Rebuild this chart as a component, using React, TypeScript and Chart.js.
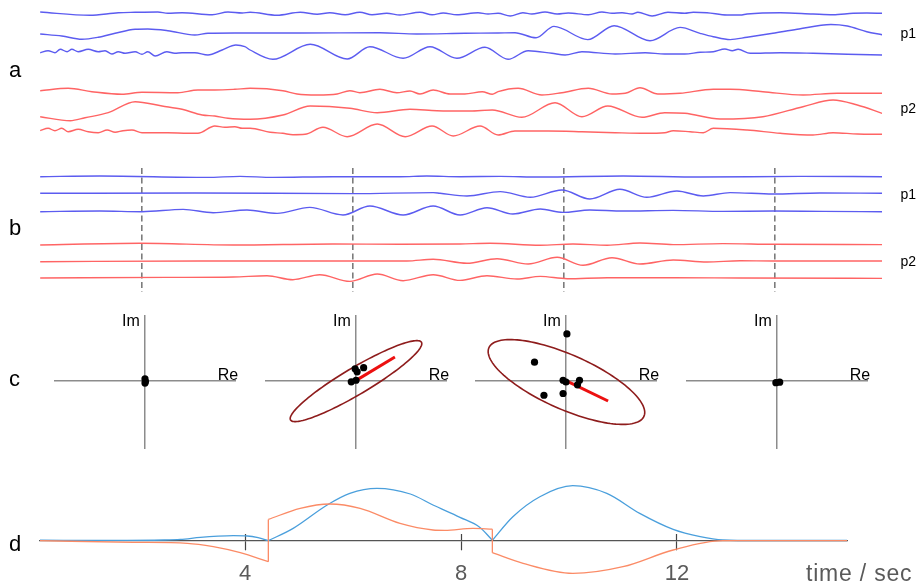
import React, { useEffect, useRef } from "react";
import { Chart, registerables } from "chart.js";

Chart.register(...registerables);

type Pt = [number, number];

// ---------- panel a : raw traces (time s, deflection, up positive) ----------
const aBlue1: Pt[] = [[0.07,1.3],[1.01,-2],[1.55,0.6],[1.87,1],[2.30,1.3],[2.49,0],[2.76,0.6],[3.33,-1.4],[3.63,1.3],[3.90,0.3],[4.05,1],[4.56,-2],[5.00,1],[5.32,-1],[5.56,0.6],[5.85,-1.4],[6.13,1],[6.36,-1.4],[6.64,0],[6.89,-1.7],[7.27,1],[7.50,-1.4],[7.71,0.3],[7.97,-1.4],[8.37,0.6],[8.56,-0.7],[8.75,0],[8.98,-2.7],[9.22,0.6],[9.39,-0.7],[9.64,1.3],[9.87,-0.7],[10.08,0.3],[10.46,-1.4],[10.72,1.3],[10.91,0],[11.10,0.6],[11.29,-0.7],[11.40,1],[11.67,-2.7],[11.97,1],[12.29,0],[12.45,1],[12.71,0.6],[13.09,-1.7],[13.34,-1.7],[13.47,-0.7],[14.10,0.6],[14.72,-0.7],[15.10,-1.4],[15.48,0],[15.74,0.3],[16.03,0]];
const aBlue2: Pt[] = [[0.07,-0.7],[0.48,-2.7],[0.86,-6],[1.17,-4],[1.49,0],[1.87,4],[2.11,4.3],[2.49,2.6],[3.00,-1.7],[3.25,0],[3.76,0.3],[5.00,0.3],[6.51,0.6],[7.21,-0.7],[8.12,0],[8.75,0.3],[9.07,0.6],[9.47,-4.5],[9.81,6.9],[10.45,-6.3],[10.95,7.6],[11.63,-7.4],[12.2,5.9],[12.58,0],[12.83,-3.4],[13.15,-6.3],[13.47,-4],[13.96,0],[14.42,4],[15.06,8.8],[15.37,7.3],[15.74,1.6],[16.03,-1.4]];
const aBlue3: Pt[] = [[0.07,0.3],[0.22,2.3],[0.35,0.3],[0.45,3.7],[0.58,1.3],[0.67,3.7],[0.79,1.3],[0.98,3.7],[1.17,1.3],[1.30,2.3],[1.43,-1],[1.55,1.3],[1.68,-0.3],[1.87,1.3],[2.00,-1.3],[2.11,1.3],[2.25,-3],[2.47,1.3],[2.62,-0.3],[2.76,0.3],[3.00,0.3],[3.25,-2],[3.52,3],[3.78,8],[3.95,6.3],[4.05,3],[4.48,-6.3],[5.19,8.7],[5.89,-6],[6.32,6.3],[6.95,-5.3],[7.46,6.3],[7.97,-5.3],[8.50,5.7],[8.94,-6.3],[9.32,2.3],[9.77,-0.3],[10.02,-2],[10.34,1.3],[10.97,-1],[11.54,0.3],[11.91,-1],[12.29,-1],[12.58,0.7],[12.83,1.3],[13.05,4],[13.19,2.3],[13.30,3.7],[13.53,-0.3],[14.10,0.3],[14.72,-0.3],[15.37,-1.3],[16.03,-2]];
const aRed1: Pt[] = [[0.07,0.3],[0.60,2.7],[1.05,-0.7],[1.62,-3.3],[2.0,-1.3],[2.68,-1.7],[3.06,1],[3.38,1],[3.76,1.7],[4.05,2.7],[4.67,0.3],[4.94,-3],[5.32,-4],[5.70,-3],[5.94,0.3],[6.13,-1.7],[6.51,1.7],[6.83,-1.7],[7.08,0],[7.27,-3],[7.52,1],[7.84,-3],[8.12,-3],[8.45,-0.7],[8.64,-3.3],[8.75,-0.7],[9.13,2.7],[9.58,-4],[9.96,-1.7],[10.46,2.7],[10.91,-3],[11.16,-2.3],[11.44,3.3],[11.78,-3],[12.20,-2.3],[12.83,1.7],[13.15,1.7],[13.77,-0.7],[14.53,-4],[15.18,-2.3],[16.03,-2.3]];
const aRed2: Pt[] = [[0.07,-4.7],[0.64,-8.7],[0.92,-5.7],[1.36,-0.7],[1.87,10.3],[2.38,6],[2.76,2.7],[3.14,-3],[3.38,-4],[3.63,-6.3],[4.05,-7.3],[4.67,-3],[5.19,6],[5.94,3.7],[6.46,-0.7],[7.08,2.7],[7.59,1.3],[8.22,1],[8.64,2],[9.20,-5.3],[9.83,9.3],[10.34,-4.7],[10.83,6],[11.48,-5.3],[11.91,-0.7],[12.29,-1.3],[12.96,-7],[13.77,-4.7],[14.53,5.3],[15.10,12],[15.56,7],[16.03,-1.3]];
const aRed3: Pt[] = [[0.07,0.3],[0.22,2.7],[0.35,0.3],[0.48,2.7],[0.60,-0.7],[0.79,1.7],[0.98,-0.7],[1.17,-1.7],[1.34,1],[1.49,-1.3],[1.64,0.3],[1.81,1],[2.00,-1.7],[2.49,-1.7],[2.87,-2.3],[3.06,-2.3],[3.38,5],[3.57,3.7],[3.76,4.3],[3.90,2.7],[4.05,2.7],[4.43,-1.3],[4.67,-2.3],[4.86,-3.7],[5.09,-3.3],[5.43,3.7],[5.89,-5.7],[6.46,7],[6.99,-5.7],[7.50,5],[7.90,-5],[8.41,5],[8.75,-4],[9.07,0],[9.70,0],[10.34,-0.7],[10.97,-1.7],[11.54,-2.3],[11.91,-1.7],[12.07,0.3],[12.39,-0.7],[12.64,-1.7],[12.83,2.7],[13.47,1],[14.10,-2.3],[14.72,-4],[15.10,-1.7],[15.56,-3],[16.03,-3.3]];

// ---------- panel b : filtered traces ----------
const bBlue1: Pt[] = [[0.07,0],[1.20,0.7],[3.23,-0.7],[3.86,0.3],[4.48,-0.7],[5.62,0],[6.89,0],[7.40,0.7],[8.03,0],[8.79,0.3],[9.55,-0.3],[11.12,0.7],[12.58,-0.3],[14.47,0.3],[16.03,0]];
const bBlue2: Pt[] = [[0.07,0],[3.0,0.3],[6.0,-0.3],[7.52,0.7],[7.65,0],[8.16,-2.7],[8.79,1.7],[9.36,-4],[9.96,3.3],[10.49,-5.7],[11.06,4],[11.57,-4],[12.14,2.3],[12.64,-2.7],[13.15,0.7],[13.96,-0.7],[14.85,0.3],[16.03,0]];
const bBlue3: Pt[] = [[0.07,0],[1.2,0.7],[2.0,0],[2.78,2.3],[3.35,-1],[3.99,1.7],[4.56,-1.7],[5.18,4.3],[5.81,-3.3],[6.32,5.7],[6.95,-3.3],[7.52,5.7],[8.03,-3.3],[8.54,4],[9.03,-2.3],[9.55,2.7],[9.98,-0.7],[10.49,1.7],[11.12,0.7],[12.07,1.3],[13.01,0.3],[13.96,0.7],[14.91,0.3],[16.03,0]];
const bRed1: Pt[] = [[0.07,-0.7],[1.96,1],[3.73,-0.7],[5.62,0.3],[6.89,0],[8.03,0.3],[8.60,1],[9.55,-1],[10.17,0.3],[10.82,-1],[11.44,1.3],[12.07,-0.3],[13.01,0.7],[13.96,0],[16.03,-0.3]];
const bRed2: Pt[] = [[0.07,-0.7],[3.10,0],[7.02,0],[7.52,1.7],[8.16,-2.3],[8.73,2.3],[9.32,-3],[9.87,3.7],[10.36,-4.3],[10.91,3.3],[11.44,-3],[12.07,1],[12.71,-1],[13.34,0.3],[13.96,0],[16.03,0]];
const bRed3: Pt[] = [[0.07,-0.3],[2.47,0.3],[3.73,0.7],[4.37,2],[4.86,-2],[5.37,3],[5.94,-3.7],[6.46,3.7],[6.95,-3],[7.52,3],[8.03,-2.7],[8.54,2],[9.11,-1.3],[9.55,1.3],[10.06,-1],[10.82,0],[12.07,0],[13.34,-0.3],[16.03,-0.7]];
const eventTimes = [2, 6, 10, 14];

// ---------- panel c : complex-plane estimates ----------
const c1Dots: Pt[] = [[0,0.1],[0.02,-0.02],[0,-0.09]];
const c2Dots: Pt[] = [[-0.04,0.56],[0.34,0.61],[0.05,0.42],[-0.21,-0.03],[0,0.04]];
const c2Mean: Pt[] = [[0.08,0.08],[1.73,1.09]];
const c2Ellipse = [0, 0, 3.4, 0.6, 31.2]; // centre x, centre y, semi-major, semi-minor, angle (deg)
const c3Dots: Pt[] = [[0.04,2.14],[-1.40,0.86],[-0.98,-0.64],[-0.13,-0.56],[-0.13,0.04],[0,-0.04],[0.6,0.04],[0.51,-0.17]];
const c3Mean: Pt[] = [[0.04,0],[1.87,-0.9]];
const c3Ellipse = [0.02, -0.04, 3.78, 1.23, -24.4];
const c4Dots: Pt[] = [[-0.05,-0.07],[0.12,-0.05]];

// ---------- panel d : envelopes ----------
const dBlue1: Pt[] = [[0.2,0.5],[1.5,0.3],[2.5,0.7],[2.8,1.3],[3.17,3.3],[3.5,4.5],[3.78,5],[4.04,4.7],[4.24,3],[4.43,0]];
const dBlue2: Pt[] = [[4.43,0],[4.89,12.3],[5.52,35.7],[5.94,47.3],[6.44,52.3],[7.06,46.7],[7.48,35.7],[7.98,23.4],[8.35,13.3],[8.58,0.5]];
const dBlue3: Pt[] = [[8.58,0.5],[8.96,24],[9.46,44],[10.07,55],[10.70,47.3],[11.31,27.3],[11.93,11.3],[12.43,4],[12.85,0.7],[13.5,0.2],[15.15,0.2]];
const dOrange1: Pt[] = [[0.2,0],[1.93,-1.6],[2.93,-2.6],[3.41,-6],[3.91,-12],[4.43,-21]];
const dOrange2: Pt[] = [[4.43,21.3],[5.02,32.3],[5.57,36.7],[6.13,32.3],[6.87,17.3],[7.48,10.7],[7.7,10.3],[8.22,12.3],[8.58,11.5]];
const dOrange3: Pt[] = [[8.58,-12],[9.15,-22.7],[10.07,-32.7],[11.0,-26],[11.93,-9.3],[12.85,0],[15.15,0]];
const dTicks = [4, 8, 12];

// ---------- styling / layout ----------
const BLUE = "#5c5cf0";
const RED = "#ff6464";
const D_BLUE = "#4a9fdc";
const D_ORANGE = "#fb8b66";
const FONT = "'Liberation Sans', Arial, sans-serif";

const toXY = (arr: Pt[]) => arr.map(([x, y]) => ({ x, y }));

const common = {
  animation: false,
  responsive: false,
  events: [],
  plugins: { legend: { display: false }, tooltip: { enabled: false } },
};

function traceConfig(traces: Pt[][], colors: string[], bases: number[], height: number, grid: number[] | null) {
  const scales: any = {
    x: {
      type: "linear",
      min: 0,
      max: 16.03,
      display: !!grid,
      afterBuildTicks: (s: any) => {
        s.ticks = (grid || []).map((v) => ({ value: v }));
      },
      afterFit: (s: any) => {
        s.height = 0;
      },
      ticks: { display: false },
      grid: { display: true, drawTicks: false, color: "#7c7c7c", lineWidth: 1.6 },
      border: { display: false, dash: [6, 3.5] },
    },
  };
  traces.forEach((_, i) => {
    scales["y" + i] = { type: "linear", display: false, min: bases[i] - height, max: bases[i] };
  });
  return {
    type: "line",
    data: {
      datasets: traces.map((t, i) => ({
        data: toXY(t),
        borderColor: colors[i],
        borderWidth: 1.4,
        pointRadius: 0,
        fill: false,
        cubicInterpolationMode: "monotone",
        yAxisID: "y" + i,
      })),
    },
    options: {
      ...common,
      layout: { padding: { left: 36.5, right: 37.9, top: 0, bottom: 0 } },
      scales,
    },
  };
}

function ellipsePlugin(ell: number[] | null) {
  return {
    id: "covEllipse",
    beforeDatasetsDraw(chart: any) {
      if (!ell) return;
      const [cx, cy, a, b, deg] = ell;
      const xs = chart.scales.x;
      const ys = chart.scales.y;
      const phi = (deg * Math.PI) / 180;
      const ctx = chart.ctx;
      ctx.save();
      ctx.beginPath();
      const n = 144;
      for (let k = 0; k <= n; k++) {
        const th = (k / n) * 2 * Math.PI;
        const u = a * Math.cos(th);
        const v = b * Math.sin(th);
        const px = xs.getPixelForValue(cx + u * Math.cos(phi) - v * Math.sin(phi));
        const py = ys.getPixelForValue(cy + u * Math.sin(phi) + v * Math.cos(phi));
        if (k === 0) ctx.moveTo(px, py);
        else ctx.lineTo(px, py);
      }
      ctx.closePath();
      ctx.strokeStyle = "#8e1c1c";
      ctx.lineWidth = 1.6;
      ctx.stroke();
      ctx.restore();
    },
  };
}

function planeConfig(dots: Pt[], mean: Pt[] | null, ell: number[] | null) {
  const datasets: any[] = [
    {
      data: toXY(dots),
      pointRadius: 3.6,
      pointBackgroundColor: "#000",
      pointBorderWidth: 0,
      showLine: false,
      order: 0,
    },
  ];
  if (mean) {
    datasets.push({
      data: toXY(mean),
      showLine: true,
      borderColor: "#ec1010",
      borderWidth: 3,
      pointRadius: 0,
      order: 1,
    });
  }
  const axis = (pos: any, min: number, max: number) => ({
    type: "linear",
    min,
    max,
    position: pos,
    ticks: { display: false },
    grid: { display: false, drawTicks: false },
    border: { display: true, color: "#8c8c8c", width: 1.5 },
    afterFit: (s: any) => {
      if (s.isHorizontal()) s.height = 0;
      else s.width = 0;
    },
  });
  return {
    type: "scatter",
    data: { datasets },
    options: {
      ...common,
      layout: { padding: 0 },
      scales: {
        x: axis({ y: 0 }, -4, 4),
        y: axis({ x: 0 }, -3.03, 2.95),
      },
    },
    plugins: [ellipsePlugin(ell)],
  };
}

function dConfig() {
  const seg = (d: Pt[], color: string) => ({
    data: toXY(d),
    borderColor: color,
    borderWidth: 1.3,
    pointRadius: 0,
    fill: false,
    cubicInterpolationMode: "monotone",
  });
  const jump = (a: Pt[], b: Pt[], color: string) => ({
    data: toXY([a[a.length - 1], b[0]]),
    borderColor: color,
    borderWidth: 1.3,
    pointRadius: 0,
    fill: false,
    tension: 0,
  });
  const setTicks = (s: any) => {
    s.ticks = dTicks.map((v) => ({ value: v }));
  };
  return {
    type: "line",
    data: {
      datasets: [
        seg(dOrange1, D_ORANGE),
        jump(dOrange1, dOrange2, D_ORANGE),
        seg(dOrange2, D_ORANGE),
        jump(dOrange2, dOrange3, D_ORANGE),
        seg(dOrange3, D_ORANGE),
        seg(dBlue1, D_BLUE),
        seg(dBlue2, D_BLUE),
        seg(dBlue3, D_BLUE),
      ],
    },
    options: {
      ...common,
      layout: { padding: { left: 40, right: 73, top: 0, bottom: 0 } },
      scales: {
        x: {
          type: "linear",
          min: 0.2,
          max: 15.15,
          position: { y: 0 },
          afterBuildTicks: setTicks,
          afterFit: (s: any) => {
            s.height = 0;
          },
          ticks: {
            color: "#5a5a5a",
            font: { family: FONT, size: 22 },
            padding: 11,
            maxRotation: 0,
            autoSkip: false,
          },
          grid: {
            display: true,
            drawOnChartArea: false,
            drawTicks: true,
            tickLength: 9,
            tickColor: "#444",
            tickWidth: 1.2,
          },
          border: { display: true, color: "#555", width: 1.3 },
        },
        xUp: {
          type: "linear",
          axis: "x",
          min: 0.2,
          max: 15.15,
          position: { y: 0 },
          afterBuildTicks: setTicks,
          afterFit: (s: any) => {
            s.height = 0;
          },
          ticks: { display: false },
          grid: {
            display: true,
            drawOnChartArea: false,
            drawTicks: true,
            tickLength: -7,
            tickColor: "#444",
            tickWidth: 1.2,
          },
          border: { display: false },
        },
        y: { type: "linear", display: false, min: -46.3, max: 80.7 },
      },
    },
  };
}

function ChartBox({ make, left, top, width, height }: any) {
  const ref = useRef<HTMLCanvasElement | null>(null);
  useEffect(() => {
    const chart = new Chart(ref.current as HTMLCanvasElement, make());
    return () => chart.destroy();
  }, []);
  return (
    <canvas
      ref={ref}
      width={width}
      height={height}
      style={{ position: "absolute", left, top, width, height }}
    />
  );
}

function Txt({ text, left, top, size, color = "#000", width, align = "left", spacing = 0 }: any) {
  return (
    <div
      style={{
        position: "absolute",
        left,
        top,
        width,
        textAlign: align,
        fontFamily: FONT,
        fontSize: size,
        lineHeight: 1,
        color,
        letterSpacing: spacing,
        whiteSpace: "nowrap",
      }}
    >
      {text}
    </div>
  );
}

const planeCenters = [145, 356, 566, 777];

export default function App() {
  const planes = [
    () => planeConfig(c1Dots, null, null),
    () => planeConfig(c2Dots, c2Mean, c2Ellipse),
    () => planeConfig(c3Dots, c3Mean, c3Ellipse),
    () => planeConfig(c4Dots, null, null),
  ];
  return (
    <div
      style={{
        position: "absolute",
        left: 0,
        top: 0,
        width: 920,
        height: 587,
        overflow: "hidden",
        background: "#fff",
      }}
    >
      <ChartBox
        left={0}
        top={0}
        width={920}
        height={150}
        make={() =>
          traceConfig(
            [aBlue1, aBlue2, aBlue3, aRed1, aRed2, aRed3],
            [BLUE, BLUE, BLUE, RED, RED, RED],
            [13.3, 33.3, 53, 91, 112, 131],
            150,
            null
          )
        }
      />
      <ChartBox
        left={0}
        top={168}
        width={920}
        height={124}
        make={() =>
          traceConfig(
            [bBlue1, bBlue2, bBlue3, bRed1, bRed2, bRed3],
            [BLUE, BLUE, BLUE, RED, RED, RED],
            [8.7, 25.3, 43.7, 76.3, 93, 109.7],
            124,
            eventTimes
          )
        }
      />
      {planes.map((mk, i) => (
        <ChartBox key={i} left={planeCenters[i] - 94} top={312} width={188} height={140} make={mk} />
      ))}
      <ChartBox left={0} top={460} width={920} height={127} make={dConfig} />

      <Txt text="a" left={9} top={58.7} size={22} />
      <Txt text="b" left={9} top={217.4} size={22} />
      <Txt text="c" left={9} top={368.1} size={22} />
      <Txt text="d" left={9} top={533.1} size={22} />

      <Txt text="p1" left={900.5} top={25.9} size={14} />
      <Txt text="p2" left={900.5} top={100.9} size={14} />
      <Txt text="p1" left={900.5} top={187.2} size={14} />
      <Txt text="p2" left={900.5} top={253.8} size={14} />

      {planeCenters.map((cx, i) => (
        <React.Fragment key={"lab" + i}>
          <Txt text="Im" left={cx - 14 - 20} width={40} align="center" top={312.7} size={16} />
          <Txt text="Re" left={cx + 83 - 20} width={40} align="center" top={367.2} size={16} />
        </React.Fragment>
      ))}

      <Txt text="time / sec" left={806} top={562.3} size={23} color="#5a5a5a" spacing={0.8} />
    </div>
  );
}
